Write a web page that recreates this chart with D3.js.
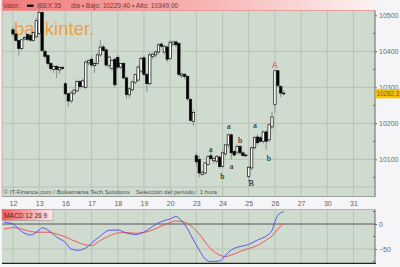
<!DOCTYPE html>
<html><head><meta charset="utf-8">
<script src="https://cdn.jsdelivr.net/npm/d3@7"></script>
<style>body{margin:0;background:#f5f5f8}svg{display:block}</style>
</head><body>
<svg id="c" width="400" height="267"></svg>
<script>
// ---- data ----
const days = ["12","13","16","17","18","19","20","23","24","25","26","27","30","31"];
const candlesPerDay = 9;
const opens  = [10460,10448,10430,10408,10434,10447,10444,10430,10440,
                10450,10508,10400,10388,10366,10350,10358,10348,10355,
                10310,10282,10262,10284,10290,10316,10302,10300,10368,
                10378,10360,10366,10390,10412,10404,10360,10352,10378,
                10383,10356,10366,10326,10279,10293,10314,10320,10345,
                10382,10336,10310,10386,10390,10398,10420,10398,10412,
                10380,10420,10426,10422,10332,10336,10330,10266,10205,
                10110,10100,10058,10062,10086,10110,10096,10095,10106,
                10080,10115,10140,10168,10122,10120,10136,10118,10112,
                10052,10076,10132,10162,10160,10150,10176,10154,10190,
                10252,10346,10302,10284];
const highs  = [10468,10450,10432,10434,10442,10450,10448,10456,10492,
                10525,10512,10405,10392,10370,10362,10362,10360,10360,
                10315,10285,10290,10296,10322,10320,10325,10375,10378,
                10385,10370,10395,10432,10418,10408,10388,10378,10382,
                10390,10368,10370,10330,10300,10318,10338,10362,10385,
                10388,10340,10398,10396,10402,10422,10425,10418,10416,
                10432,10430,10430,10425,10340,10340,10334,10270,10237,
                10118,10110,10068,10092,10112,10122,10106,10112,10110,
                10125,10142,10172,10172,10125,10142,10140,10122,10116,
                10082,10135,10165,10170,10164,10180,10180,10200,10232,
                10349,10348,10306,10292];
const lows   = [10440,10425,10388,10402,10430,10428,10426,10426,10436,
                10445,10398,10380,10360,10345,10340,10326,10338,10348,
                10278,10245,10255,10278,10286,10296,10298,10295,10360,
                10355,10340,10360,10385,10398,10355,10350,10345,10300,
                10350,10350,10322,10268,10270,10288,10308,10316,10340,
                10330,10287,10305,10378,10382,10392,10410,10392,10370,
                10375,10415,10412,10330,10325,10322,10262,10205,10193,
                10080,10050,10052,10058,10082,10100,10088,10090,10075,
                10075,10108,10132,10099,10108,10112,10112,10108,10106,
                10037,10070,10128,10140,10146,10144,10126,10148,10184,
                10229.4,10300,10272,10278];
const closes = [10448,10430,10408,10432,10438,10433,10431,10452,10485,
                10508,10402,10386,10366,10352,10358,10350,10355,10352,
                10282,10262,10284,10292,10316,10302,10318,10370,10374,
                10362,10366,10390,10412,10402,10362,10384,10374,10307,
                10356,10366,10326,10280,10296,10315,10335,10356,10380,
                10336,10310,10390,10392,10398,10418,10414,10414,10378,
                10425,10426,10418,10336,10337,10330,10268,10208,10230,
                10093,10062,10064,10090,10107,10102,10102,10108,10080,
                10118,10140,10168,10118,10112,10136,10118,10110,10110,
                10078,10132,10160,10146,10150,10176,10150,10196,10218,
                10346,10305,10284,10282.3];
const priceTicks = [10100,10200,10300,10400,10500];
const lastPrice = "10282,3";
// MACD (12,26,9) sampled at candle indexes
const macdIdx    = [-3,-2,0,3,6,9,10,11,12,15,18,20,22,25,27,30,33,36,39,42,45,48,51,54,56,58,60,62,64,66,68,71,73,75,78,81,84,87,89,90,91,93];
const macdLine   = [4,3,0,-15,-22,-12,-7.5,-9,-12,-26,-37,-50,-52.5,-48,-38,-24,-12.5,-12,-18,-21,-16,-5,5,10,15,6,-10,-32,-52,-70,-75,-74,-63,-52,-45,-41,-32,-24,-13,5,17,25];
const signalLine = [-10,-9,-7,-10,-15,-16.5,-16.5,-16.5,-16.5,-20,-26,-31,-36,-42,-43,-33,-24,-18,-17,-18.5,-17,-12,-4,3,6,5,1,-8,-20,-36,-50,-62,-65,-62,-55,-49,-43,-32,-24,-17,-10,1];
const macdTicks = [0,-50];
// chart annotations (Elliott-style marks)
const annoText  = ["A","a","b","a","a","b","a","B","b"];
const annoIdx   = [90,68,71.9,74.2,75.1,78,83.2,81.9,87.9];
const annoPrice = [10355,10119,10044,10185,10074,10144,10187,10026,10094];
const titleText = "Valor:";
const seriesName = "IBEX 35";
const dayInfo = "dia \u2022 Bajo: 10229,40 \u2022 Alto: 10349,00";

// ---- drawing ----
const svg = d3.select("#c");
const W = 400, H = 267;
const pl = 2, pr = 375, pt = 10.5, pb = 196.5;
const mt = 209.5, mb = 263.3;
const x = d3.scaleLinear().domain([0, 117]).range([13, 353.5]);
const y = d3.scaleLinear().domain([10100, 10400]).range([159.3, 51.3]);
const ym = d3.scaleLinear().domain([-50, 0]).range([249, 224]);
const font = "Liberation Sans, Arial, sans-serif";

const defs = svg.append("defs");
const hg = defs.append("linearGradient").attr("id","hg");
hg.append("stop").attr("offset","0").attr("stop-color","#f27a7a");
hg.append("stop").attr("offset","0.55").attr("stop-color","#f8b4b4");
hg.append("stop").attr("offset","1").attr("stop-color","#fdf2f2");
const mg = defs.append("linearGradient").attr("id","mg");
mg.append("stop").attr("offset","0").attr("stop-color","#f45a5a");
mg.append("stop").attr("offset","1").attr("stop-color","#fbe8e8");

svg.append("rect").attr("width",W).attr("height",H).attr("fill","#f5f5f8");
svg.append("rect").attr("x",pl).attr("y",pt).attr("width",pr-pl).attr("height",pb-pt).attr("fill","#d0dbcf");
svg.append("rect").attr("x",pl).attr("y",mt).attr("width",pr-pl).attr("height",mb-mt).attr("fill","#d0dbcf");

const dayIdx = days.map((d,i)=>i*candlesPerDay);
const gridCol = "#b7c3b6";
svg.append("g").selectAll("line").data(dayIdx).join("line")
  .attr("x1",d=>x(d)).attr("x2",d=>x(d)).attr("y1",pt).attr("y2",pb)
  .attr("stroke",gridCol).attr("stroke-width",1);
svg.append("g").selectAll("line").data(dayIdx).join("line")
  .attr("x1",d=>x(d)).attr("x2",d=>x(d)).attr("y1",mt).attr("y2",mb)
  .attr("stroke",gridCol).attr("stroke-width",1);
svg.append("g").selectAll("line").data(priceTicks.filter(p=>p<10500)).join("line")
  .attr("x1",pl).attr("x2",pr).attr("y1",d=>y(d)).attr("y2",d=>y(d))
  .attr("stroke",gridCol).attr("stroke-width",1);
svg.append("line").attr("x1",pl).attr("x2",pr).attr("y1",187).attr("y2",187)
  .attr("stroke",gridCol).attr("stroke-width",1);

// header
svg.append("rect").attr("x",pl).attr("y",0).attr("width",pr-pl).attr("height",pt).attr("fill","url(#hg)");
svg.append("line").attr("x1",pl).attr("x2",pr).attr("y1",pt).attr("y2",pt).attr("stroke","#e58c8c").attr("stroke-width",0.8);
const ht = svg.append("g").attr("font-family",font).attr("font-size",6.6).attr("fill","#6e3a3a");
ht.append("text").attr("x",3).attr("y",7.6).text(titleText);
ht.append("rect").attr("x",27).attr("y",4.6).attr("width",6.5).attr("height",2.2).attr("fill","#000");
ht.append("text").attr("x",37).attr("y",7.6).text(seriesName);
ht.append("text").attr("x",71).attr("y",7.6).text(dayInfo);

// logo
svg.append("text").attr("x",14).attr("y",34.5).attr("font-family",font).attr("font-size",18.5)
  .attr("fill","#f5962c").attr("fill-opacity",0.9).text("bankinter.");

// candles
const idx = d3.range(opens.length);
const cg = svg.append("g");
cg.selectAll("line").data(idx).join("line")
  .attr("x1",i=>x(i)).attr("x2",i=>x(i))
  .attr("y1",i=>y(highs[i])).attr("y2",i=>y(lows[i]))
  .attr("stroke","#808a80").attr("stroke-width",0.9);
const bw = 2.4;
cg.selectAll("rect").data(idx).join("rect")
  .attr("x",i=>x(i)-bw/2)
  .attr("y",i=>y(Math.max(opens[i],closes[i])))
  .attr("width",bw)
  .attr("height",i=>Math.max(0.8,Math.abs(y(opens[i])-y(closes[i]))))
  .attr("fill",i=>closes[i]>=opens[i]?"#ffffff":"#000000")
  .attr("stroke","#111").attr("stroke-width",0.7);

// annotations
svg.append("g").attr("opacity",0.999).selectAll("text").data(annoText).join("text")
  .attr("x",(d,i)=>x(annoIdx[i])).attr("y",(d,i)=>y(annoPrice[i]))
  .attr("text-anchor","middle")
  .attr("font-family",(d)=>d==="A"?font:"Liberation Serif, Times New Roman, serif")
  .attr("font-size",(d)=>d==="A"?8.5:8.2)
  .attr("fill",(d)=>d==="A"?"#ff3030":"#000")
  .text(d=>d);

// copyright
const ft = svg.append("g").attr("font-family",font).attr("font-size",6.1).attr("fill","#505050");
ft.append("text").attr("x",3.5).attr("y",193.8).text("\u00a9 IT-Finance.com / Bolsamania Tech Solutions");
ft.append("text").attr("x",136).attr("y",193.8).text("Selecci\u00f3n del per\u00edodo : 1 hora");

// borders
svg.append("line").attr("x1",pl).attr("x2",pr).attr("y1",pb).attr("y2",pb).attr("stroke","#9aa09a").attr("stroke-width",1);
svg.append("line").attr("x1",pl).attr("x2",pl).attr("y1",0).attr("y2",pb).attr("stroke","#e8a0a0").attr("stroke-width",1);
svg.append("line").attr("x1",pr).attr("x2",pr).attr("y1",pt).attr("y2",pb).attr("stroke","#666").attr("stroke-width",1);

// right axis
const ra = svg.append("g").attr("transform",`translate(${pr},0)`);
ra.call(d3.axisRight(y).tickValues(priceTicks).tickSize(2).tickFormat(d3.format("d")))
  .call(g=>g.select(".domain").remove())
  .call(g=>g.selectAll("text").attr("font-family",font).attr("font-size",7).attr("fill","#6a6a6a").attr("dx",-1))
  .call(g=>g.selectAll("line").attr("stroke","#666"));
svg.append("g").selectAll("line").data([10050,10150,10250,10350,10450]).join("line")
  .attr("x1",pr-2).attr("x2",pr).attr("y1",d=>y(d)).attr("y2",d=>y(d)).attr("stroke","#666");
// last price label
svg.append("rect").attr("x",pr+0.5).attr("y",y(10282.3)-4.7).attr("width",25).attr("height",9.4).attr("fill","#f7c400");
svg.append("text").attr("x",pr+1.5).attr("y",y(10282.3)+2.3).attr("font-family",font).attr("font-size",6.3).attr("fill","#6a5a20").text(lastPrice);

// x labels
svg.append("g").attr("transform",`translate(0,${pb})`)
  .call(d3.axisBottom(x).tickValues(dayIdx).tickSize(0).tickFormat((d,i)=>days[i]))
  .call(g=>g.select(".domain").remove())
  .call(g=>g.selectAll("text").attr("font-family",font).attr("font-size",7).attr("fill","#606060").attr("dy","0.95em"));

// macd panel
svg.append("line").attr("x1",pl).attr("x2",pr).attr("y1",ym(-50)).attr("y2",ym(-50)).attr("stroke",gridCol);
svg.append("line").attr("x1",pl).attr("x2",pr).attr("y1",ym(0)).attr("y2",ym(0)).attr("stroke","#555").attr("stroke-width",1);
svg.append("line").attr("x1",pl).attr("x2",pr).attr("y1",mt).attr("y2",mt).attr("stroke","#e8a0a0").attr("stroke-width",1);
svg.append("line").attr("x1",pl).attr("x2",pr+1).attr("y1",mb).attr("y2",mb).attr("stroke","#222").attr("stroke-width",1.2);
svg.append("line").attr("x1",pr).attr("x2",pr).attr("y1",mt).attr("y2",mb).attr("stroke","#666");
const line = d3.line().x((d,i)=>x(macdIdx[i])).y(d=>ym(d)).curve(d3.curveMonotoneX);
svg.append("path").datum(signalLine).attr("d",line).attr("fill","none").attr("stroke","#ee4a4a").attr("stroke-width",0.9);
svg.append("path").datum(macdLine).attr("d",line).attr("fill","none").attr("stroke","#4a4aee").attr("stroke-width",0.9);
const ma = svg.append("g").attr("transform",`translate(${pr},0)`);
ma.call(d3.axisRight(ym).tickValues(macdTicks).tickSize(2))
  .call(g=>g.select(".domain").remove())
  .call(g=>g.selectAll("text").attr("font-family",font).attr("font-size",7).attr("fill","#6a6a6a").attr("dx",-1))
  .call(g=>g.selectAll("line").attr("stroke","#666"));
svg.append("g").selectAll("line").data([25,-25,-75]).join("line")
  .attr("x1",pr-2).attr("x2",pr).attr("y1",d=>ym(d)).attr("y2",d=>ym(d)).attr("stroke","#666");
svg.append("rect").attr("x",pl).attr("y",mt).attr("width",51).attr("height",11).attr("fill","url(#mg)").attr("stroke","#999").attr("stroke-width",0.6);
svg.append("text").attr("x",4).attr("y",mt+8).attr("font-family",font).attr("font-size",6.6).attr("fill","#3a2a2a").text("MACD 12 26 9");
</script>
</body></html>
